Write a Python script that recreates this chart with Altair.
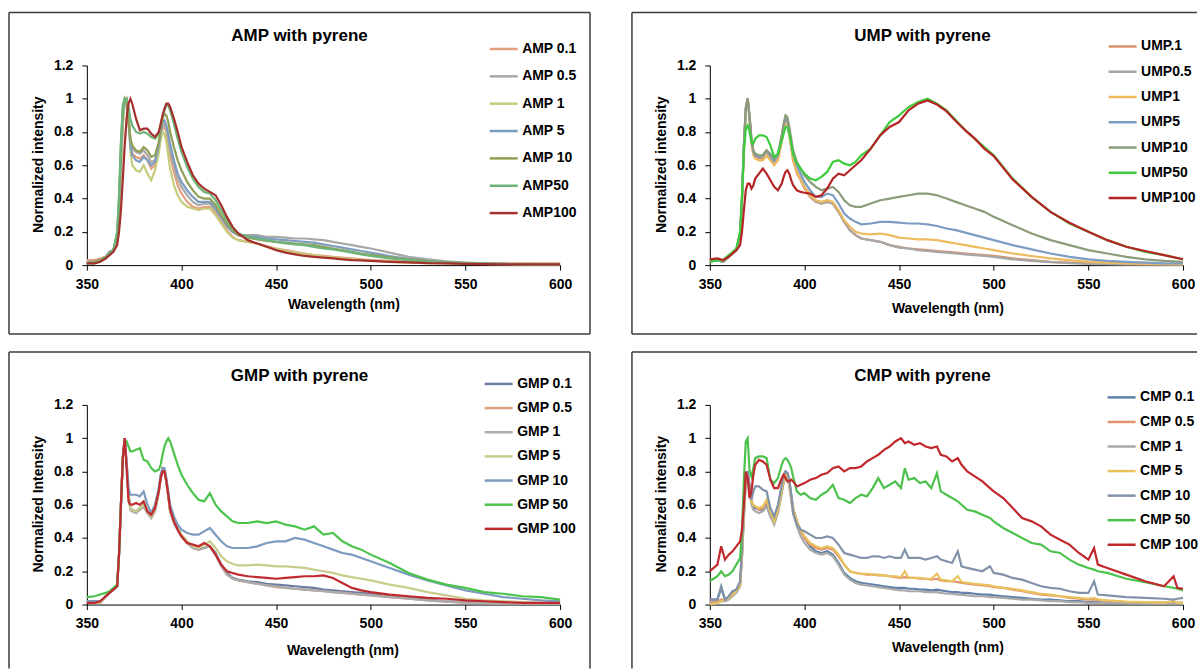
import altair as alt
import pandas as pd

FONT = "Liberation Sans"
INK = "#000000"
FRAME_COLOR = "#3c3c3c"

# Shared wavelength grid (nm) for the AMP, UMP and GMP spectra
WAVE = [350, 354, 357, 360, 362, 364, 366, 367, 368, 369,
        370, 371, 372, 373, 374, 376, 378, 380, 382, 384,
        386, 388, 389, 390, 391, 392, 393, 394, 396, 398,
        400, 403, 406, 409, 412, 415, 418, 421, 424, 427,
        430, 435, 440, 445, 450, 455, 460, 465, 470, 475,
        480, 485, 490, 495, 500, 510, 520, 530, 540, 550,
        560, 570, 580, 590, 600]

# Finer grid for the noisier CMP spectra
WAVE_CMP = [350, 354, 356, 358, 360, 362, 364, 366, 367, 368,
            369, 370, 371, 372, 373, 374, 376, 378, 380, 382,
            384, 386, 388, 389, 390, 391, 392, 393, 394, 396,
            398, 400, 403, 406, 409, 412, 415, 418, 421, 424,
            427, 430, 433, 436, 439, 442, 445, 448, 451, 453,
            455, 458, 461, 464, 467, 470, 472, 475, 478, 481,
            483, 486, 490, 494, 498, 500, 505, 510, 515, 520,
            525, 530, 535, 540, 545, 550, 553, 555, 560, 570,
            580, 590, 595, 597, 600]

X_TICKS = [350, 400, 450, 500, 550, 600]
Y_TICKS = [0, 0.2, 0.4, 0.6, 0.8, 1, 1.2]

# ---------------- AMP ----------------
AMP_NAMES = ["AMP 0.1", "AMP 0.5", "AMP 1", "AMP 5", "AMP 10", "AMP50", "AMP100"]
AMP_COLORS = ["#E59F7E", "#A8A8A8", "#C6CC7C", "#7C9DC2", "#8FA055", "#6DB47A", "#A3302C"]
AMP_VALUES = [
    [0.03, 0.03, 0.04, 0.05, 0.08, 0.09, 0.16, 0.32, 0.6, 0.85,
     0.98, 1.0, 0.92, 0.75, 0.67, 0.65, 0.64, 0.66, 0.63, 0.58,
     0.6, 0.7, 0.78, 0.82, 0.83, 0.8, 0.74, 0.66, 0.56, 0.48,
     0.43, 0.38, 0.35, 0.34, 0.35, 0.35, 0.31, 0.26, 0.21, 0.17,
     0.15, 0.14, 0.13, 0.115, 0.1, 0.09, 0.08, 0.07, 0.06, 0.055,
     0.05, 0.045, 0.04, 0.035, 0.03, 0.025, 0.02, 0.015, 0.012, 0.01,
     0.01, 0.01, 0.01, 0.01, 0.01],
    [0.02, 0.02, 0.03, 0.05, 0.08, 0.09, 0.16, 0.33, 0.62, 0.87,
     0.99, 1.0, 0.9, 0.76, 0.7, 0.68, 0.67, 0.69, 0.66, 0.62,
     0.63, 0.72, 0.79, 0.84, 0.85, 0.82, 0.76, 0.69, 0.6, 0.52,
     0.47, 0.42, 0.38, 0.36, 0.37, 0.37, 0.33, 0.28, 0.23, 0.2,
     0.18, 0.18, 0.18, 0.17, 0.17, 0.165, 0.16, 0.16, 0.155, 0.15,
     0.14, 0.13, 0.12, 0.11, 0.1, 0.075, 0.05, 0.035, 0.022, 0.015,
     0.01, 0.008, 0.006, 0.005, 0.005],
    [0.01, 0.02, 0.03, 0.05, 0.08, 0.09, 0.15, 0.3, 0.57, 0.83,
     0.97, 1.0, 0.88, 0.68, 0.6, 0.57, 0.56, 0.6, 0.55, 0.51,
     0.57, 0.67, 0.75, 0.8, 0.79, 0.74, 0.66, 0.58, 0.48, 0.42,
     0.38, 0.35, 0.34, 0.33, 0.34, 0.34, 0.3, 0.25, 0.2, 0.165,
     0.15, 0.14, 0.13, 0.11, 0.1, 0.085, 0.075, 0.065, 0.06, 0.05,
     0.045, 0.04, 0.035, 0.03, 0.028, 0.02, 0.015, 0.012, 0.01, 0.008,
     0.007, 0.006, 0.005, 0.005, 0.005],
    [0.01, 0.02, 0.03, 0.05, 0.08, 0.09, 0.17, 0.36, 0.66, 0.9,
     1.0, 0.99, 0.86, 0.72, 0.66, 0.63, 0.62, 0.65, 0.63, 0.6,
     0.62, 0.72, 0.8, 0.86, 0.87, 0.84, 0.79, 0.73, 0.63, 0.55,
     0.5, 0.45, 0.41, 0.38, 0.38, 0.38, 0.34, 0.29, 0.24, 0.2,
     0.18, 0.17, 0.17, 0.16, 0.155, 0.15, 0.145, 0.14, 0.135, 0.125,
     0.115, 0.105, 0.095, 0.085, 0.075, 0.055, 0.038, 0.026, 0.018, 0.012,
     0.009, 0.007, 0.006, 0.005, 0.005],
    [0.01, 0.02, 0.03, 0.05, 0.07, 0.09, 0.19, 0.4, 0.72, 0.95,
     1.0, 0.97, 0.86, 0.76, 0.72, 0.69, 0.68, 0.71, 0.69, 0.65,
     0.66, 0.74, 0.82, 0.88, 0.91, 0.9, 0.86, 0.8, 0.71, 0.63,
     0.57, 0.5, 0.45, 0.41, 0.4, 0.4, 0.36, 0.3, 0.25, 0.21,
     0.18, 0.165, 0.155, 0.145, 0.14, 0.135, 0.13, 0.125, 0.12, 0.11,
     0.1, 0.09, 0.08, 0.07, 0.062, 0.046, 0.034, 0.024, 0.017, 0.012,
     0.009, 0.007, 0.006, 0.005, 0.005],
    [0.01, 0.01, 0.02, 0.04, 0.07, 0.09, 0.2, 0.42, 0.74, 0.96,
     1.0, 1.0, 0.95, 0.88, 0.84, 0.8, 0.79, 0.8, 0.79, 0.77,
     0.76, 0.79, 0.84, 0.89, 0.93, 0.96, 0.96, 0.93, 0.85, 0.76,
     0.68, 0.59, 0.52, 0.47, 0.44, 0.43, 0.39, 0.33, 0.27, 0.22,
     0.19, 0.17, 0.16, 0.15, 0.14, 0.13, 0.125, 0.12, 0.11, 0.1,
     0.095, 0.085, 0.075, 0.065, 0.055, 0.04, 0.03, 0.02, 0.015, 0.01,
     0.008, 0.006, 0.005, 0.005, 0.005],
    [0.01, 0.01, 0.02, 0.04, 0.06, 0.08, 0.12, 0.2, 0.33, 0.52,
     0.72, 0.88, 0.97, 1.0, 0.97, 0.88, 0.81, 0.82, 0.82, 0.79,
     0.77, 0.8, 0.85, 0.9, 0.94, 0.97, 0.97, 0.95, 0.88, 0.8,
     0.71, 0.62, 0.54, 0.49, 0.46, 0.44, 0.42, 0.36, 0.29, 0.23,
     0.19, 0.15, 0.13, 0.11, 0.09, 0.075, 0.065, 0.055, 0.05, 0.045,
     0.04, 0.035, 0.03, 0.028, 0.025, 0.02, 0.017, 0.012, 0.01, 0.008,
     0.006, 0.005, 0.005, 0.005, 0.005],
]

# ---------------- UMP ----------------
UMP_NAMES = ["UMP.1", "UMP0.5", "UMP1", "UMP5", "UMP10", "UMP50", "UMP100"]
UMP_COLORS = ["#D9916A", "#A6A6A6", "#EDBA5E", "#7D9CC4", "#8C9C7A", "#3ECC3E", "#B52525"]
UMP_VALUES = [
    [0.03, 0.03, 0.02, 0.05, 0.07, 0.09, 0.18, 0.38, 0.7, 0.93,
     1.0, 0.88, 0.74, 0.67, 0.65, 0.64, 0.64, 0.67, 0.64, 0.61,
     0.64, 0.75, 0.82, 0.86, 0.85, 0.79, 0.71, 0.63, 0.55, 0.51,
     0.46, 0.41, 0.38, 0.37, 0.38, 0.37, 0.32, 0.26, 0.21, 0.18,
     0.16, 0.15, 0.14, 0.12, 0.11, 0.1, 0.095, 0.09, 0.085, 0.08,
     0.075, 0.07, 0.065, 0.06, 0.055, 0.04, 0.03, 0.02, 0.015, 0.01,
     0.008, 0.006, 0.005, 0.005, 0.005],
    [0.02, 0.03, 0.02, 0.05, 0.07, 0.09, 0.19, 0.4, 0.72, 0.94,
     1.0, 0.89, 0.75, 0.68, 0.66, 0.65, 0.65, 0.68, 0.65, 0.62,
     0.65, 0.77, 0.84, 0.89, 0.88, 0.81, 0.73, 0.65, 0.57, 0.52,
     0.47, 0.42, 0.38, 0.37, 0.38, 0.37, 0.32, 0.26, 0.21, 0.18,
     0.16, 0.15, 0.14, 0.12, 0.105, 0.1, 0.09, 0.085, 0.08, 0.075,
     0.07, 0.065, 0.06, 0.055, 0.05, 0.035, 0.025, 0.018, 0.012, 0.008,
     0.006, 0.005, 0.005, 0.005, 0.005],
    [0.03, 0.03, 0.02, 0.05, 0.07, 0.09, 0.18, 0.38, 0.7, 0.93,
     1.0, 0.88, 0.73, 0.66, 0.64, 0.63, 0.63, 0.66, 0.63, 0.6,
     0.63, 0.74, 0.81, 0.85, 0.84, 0.78, 0.71, 0.63, 0.56, 0.51,
     0.47, 0.42, 0.39, 0.38, 0.39, 0.38, 0.33, 0.27, 0.23, 0.2,
     0.19, 0.185, 0.19, 0.18, 0.165, 0.16, 0.155, 0.155, 0.15, 0.14,
     0.13, 0.12, 0.11, 0.1, 0.09, 0.07, 0.055, 0.04, 0.03, 0.02,
     0.015, 0.01, 0.008, 0.006, 0.005],
    [0.02, 0.03, 0.02, 0.05, 0.07, 0.09, 0.19, 0.4, 0.72, 0.94,
     1.0, 0.89, 0.75, 0.68, 0.66, 0.65, 0.66, 0.69, 0.66, 0.63,
     0.66, 0.77, 0.84, 0.88, 0.87, 0.81, 0.74, 0.67, 0.6, 0.55,
     0.5, 0.45, 0.41, 0.41, 0.43, 0.42, 0.37, 0.31, 0.28, 0.26,
     0.245, 0.25, 0.26, 0.26, 0.255, 0.25, 0.25, 0.245, 0.235, 0.22,
     0.21, 0.195, 0.18, 0.165, 0.15, 0.12, 0.095, 0.07, 0.05, 0.035,
     0.025, 0.02, 0.015, 0.01, 0.01],
    [0.02, 0.03, 0.02, 0.05, 0.07, 0.09, 0.19, 0.4, 0.72, 0.95,
     1.0, 0.9, 0.76, 0.69, 0.67, 0.66, 0.66, 0.69, 0.67, 0.64,
     0.67, 0.78, 0.85, 0.9, 0.89, 0.83, 0.76, 0.69, 0.62, 0.58,
     0.54, 0.5, 0.47, 0.45, 0.46, 0.47, 0.44, 0.39, 0.36, 0.35,
     0.35, 0.37, 0.39, 0.4, 0.41, 0.42, 0.43, 0.43, 0.42, 0.4,
     0.38, 0.36, 0.34, 0.32, 0.29, 0.24, 0.19, 0.15, 0.12, 0.09,
     0.07, 0.05, 0.035, 0.025, 0.02],
    [0.02, 0.03, 0.03, 0.06, 0.08, 0.1, 0.2, 0.42, 0.68, 0.82,
     0.84, 0.8, 0.74, 0.73, 0.76, 0.78, 0.78, 0.77, 0.72, 0.65,
     0.67, 0.75, 0.79, 0.83, 0.83, 0.79, 0.73, 0.67, 0.61, 0.58,
     0.55, 0.52, 0.51, 0.53, 0.56, 0.62, 0.63, 0.61, 0.6, 0.62,
     0.66, 0.7, 0.78, 0.86, 0.9, 0.95, 0.98, 1.0, 0.97, 0.93,
     0.87, 0.81, 0.76, 0.71, 0.66, 0.52, 0.41, 0.32, 0.25, 0.2,
     0.15, 0.11, 0.08, 0.06, 0.035],
    [0.035, 0.04, 0.03, 0.05, 0.07, 0.09, 0.12, 0.2, 0.33, 0.45,
     0.49, 0.49, 0.46, 0.48, 0.52, 0.55, 0.58, 0.55, 0.51, 0.47,
     0.45, 0.49, 0.53, 0.56, 0.57, 0.55, 0.51, 0.48, 0.45, 0.44,
     0.435, 0.43, 0.41, 0.42, 0.46, 0.52, 0.55, 0.54, 0.57, 0.6,
     0.63, 0.7, 0.78, 0.83, 0.86, 0.93, 0.97, 0.99, 0.965, 0.925,
     0.865, 0.81, 0.76, 0.7, 0.655, 0.515, 0.41, 0.32, 0.255, 0.2,
     0.15, 0.11, 0.085, 0.06, 0.035],
]

# ---------------- GMP ----------------
GMP_NAMES = ["GMP 0.1", "GMP 0.5", "GMP 1", "GMP 5", "GMP 10", "GMP 50", "GMP 100"]
GMP_COLORS = ["#6D7CA3", "#D9A17E", "#ABABAB", "#C9CC8A", "#7C9BBE", "#4CC44C", "#C02A2E"]
GMP_VALUES = [
    [0.01, 0.01, 0.01, 0.05, 0.07, 0.09, 0.11, 0.3, 0.6, 0.88,
     1.0, 0.85, 0.67, 0.58, 0.57, 0.56, 0.58, 0.6, 0.56, 0.53,
     0.57, 0.68, 0.76, 0.81, 0.8, 0.74, 0.65, 0.56, 0.49, 0.45,
     0.41, 0.37, 0.35, 0.33, 0.34, 0.35, 0.31, 0.24, 0.19, 0.16,
     0.15, 0.14, 0.135, 0.125, 0.12, 0.115, 0.11, 0.105, 0.1, 0.09,
     0.085, 0.08, 0.075, 0.07, 0.065, 0.05, 0.04, 0.03, 0.02, 0.015,
     0.01, 0.008, 0.006, 0.005, 0.005],
    [0.01, 0.01, 0.01, 0.05, 0.07, 0.09, 0.11, 0.3, 0.6, 0.88,
     1.0, 0.84, 0.66, 0.57, 0.56, 0.55, 0.57, 0.59, 0.55, 0.52,
     0.56, 0.67, 0.76, 0.81, 0.8, 0.74, 0.65, 0.56, 0.49, 0.45,
     0.41, 0.37, 0.34, 0.33, 0.34, 0.35, 0.3, 0.23, 0.18, 0.155,
     0.145, 0.135, 0.125, 0.115, 0.105, 0.1, 0.095, 0.09, 0.085, 0.08,
     0.075, 0.07, 0.065, 0.06, 0.055, 0.045, 0.035, 0.025, 0.018, 0.012,
     0.009, 0.007, 0.005, 0.005, 0.005],
    [0.01, 0.01, 0.01, 0.05, 0.07, 0.09, 0.11, 0.3, 0.6, 0.88,
     1.0, 0.84, 0.66, 0.57, 0.56, 0.55, 0.57, 0.59, 0.55, 0.52,
     0.56, 0.68, 0.77, 0.82, 0.81, 0.75, 0.66, 0.57, 0.5, 0.45,
     0.41, 0.37, 0.34, 0.33, 0.34, 0.35, 0.3, 0.23, 0.18, 0.155,
     0.145, 0.135, 0.125, 0.115, 0.11, 0.1, 0.095, 0.09, 0.085, 0.08,
     0.075, 0.07, 0.065, 0.06, 0.055, 0.045, 0.035, 0.025, 0.018, 0.012,
     0.009, 0.007, 0.005, 0.005, 0.005],
    [0.01, 0.01, 0.01, 0.05, 0.07, 0.09, 0.11, 0.3, 0.6, 0.88,
     1.0, 0.84, 0.66, 0.58, 0.57, 0.56, 0.58, 0.6, 0.56, 0.53,
     0.57, 0.68, 0.77, 0.82, 0.81, 0.75, 0.66, 0.57, 0.5, 0.46,
     0.42, 0.38, 0.35, 0.34, 0.36, 0.38, 0.34, 0.29, 0.26, 0.245,
     0.235, 0.235, 0.24, 0.235, 0.23, 0.23, 0.225, 0.22, 0.21, 0.2,
     0.19, 0.175, 0.165, 0.155, 0.145, 0.12, 0.1, 0.075, 0.055, 0.035,
     0.025, 0.02, 0.015, 0.01, 0.01],
    [0.02, 0.02, 0.02, 0.05, 0.07, 0.09, 0.11, 0.3, 0.6, 0.88,
     1.0, 0.86, 0.7, 0.66, 0.66, 0.66, 0.65, 0.68, 0.6, 0.55,
     0.6, 0.7, 0.78, 0.82, 0.82, 0.76, 0.68, 0.6, 0.53, 0.48,
     0.45, 0.43, 0.42, 0.42, 0.44, 0.46, 0.42, 0.38, 0.35, 0.34,
     0.34, 0.34, 0.35, 0.37, 0.38, 0.38, 0.4, 0.39, 0.37, 0.35,
     0.33, 0.31, 0.3, 0.28, 0.26, 0.22, 0.18, 0.145, 0.115, 0.085,
     0.065, 0.045, 0.035, 0.025, 0.02],
    [0.045, 0.05, 0.06, 0.07, 0.08, 0.1, 0.12, 0.3, 0.6, 0.88,
     0.97, 0.98, 0.95, 0.92, 0.92, 0.93, 0.94, 0.87, 0.86, 0.82,
     0.8, 0.81, 0.84, 0.9, 0.95, 0.98, 1.0, 0.98, 0.91, 0.84,
     0.78, 0.72, 0.67, 0.63, 0.62, 0.67, 0.6, 0.56, 0.53, 0.5,
     0.49, 0.49, 0.5, 0.49, 0.5, 0.48, 0.47, 0.45, 0.47, 0.42,
     0.43, 0.38, 0.35, 0.33, 0.3, 0.25, 0.19, 0.15, 0.12, 0.1,
     0.075, 0.065, 0.05, 0.045, 0.03],
    [0.01, 0.01, 0.02, 0.05, 0.07, 0.09, 0.11, 0.3, 0.6, 0.88,
     1.0, 0.82, 0.62, 0.6, 0.6, 0.61, 0.6, 0.62, 0.56, 0.54,
     0.58, 0.68, 0.76, 0.8, 0.8, 0.74, 0.66, 0.57, 0.5, 0.45,
     0.41, 0.37, 0.36, 0.35, 0.37, 0.35, 0.3, 0.24, 0.2, 0.19,
     0.18, 0.17, 0.165, 0.16, 0.155, 0.16, 0.165, 0.17, 0.17, 0.175,
     0.16, 0.13, 0.1, 0.085, 0.075, 0.06, 0.05, 0.04, 0.035, 0.025,
     0.02, 0.015, 0.01, 0.01, 0.01],
]

# ---------------- CMP ----------------
CMP_NAMES = ["CMP 0.1", "CMP 0.5", "CMP 1", "CMP 5", "CMP 10", "CMP 50", "CMP 100"]
CMP_COLORS = ["#5F80AB", "#E3946C", "#A9A9A9", "#E9C25E", "#8192A9", "#4CC24C", "#C0282C"]
CMP_VALUES = [
    [0.03, 0.03, 0.1, 0.03, 0.04, 0.06, 0.08, 0.12, 0.3, 0.55,
     0.75, 0.8, 0.72, 0.62, 0.58, 0.58, 0.57, 0.57, 0.6, 0.53,
     0.5, 0.56, 0.68, 0.75, 0.8, 0.79, 0.74, 0.66, 0.58, 0.5,
     0.44, 0.4, 0.35, 0.32, 0.31, 0.32, 0.3, 0.25, 0.19, 0.16,
     0.14, 0.13, 0.125, 0.12, 0.115, 0.11, 0.105, 0.1, 0.1, 0.1,
     0.095, 0.095, 0.09, 0.09, 0.085, 0.09, 0.085, 0.08, 0.075, 0.075,
     0.07, 0.07, 0.065, 0.06, 0.06, 0.055, 0.05, 0.045, 0.04, 0.035,
     0.03, 0.03, 0.025, 0.02, 0.02, 0.015, 0.015, 0.015, 0.01, 0.01,
     0.01, 0.01, 0.01, 0.01, 0.01],
    [0.02, 0.02, 0.03, 0.03, 0.04, 0.06, 0.08, 0.12, 0.3, 0.55,
     0.74, 0.78, 0.7, 0.62, 0.6, 0.59, 0.57, 0.58, 0.62, 0.56,
     0.5, 0.56, 0.68, 0.74, 0.78, 0.77, 0.72, 0.64, 0.57, 0.5,
     0.44, 0.4, 0.36, 0.34, 0.33, 0.34, 0.33, 0.29, 0.24, 0.2,
     0.19, 0.185, 0.18, 0.18, 0.175, 0.175, 0.17, 0.165, 0.16, 0.165,
     0.16, 0.16, 0.155, 0.155, 0.15, 0.155, 0.145, 0.14, 0.14, 0.135,
     0.13, 0.125, 0.12, 0.115, 0.11, 0.105, 0.1, 0.09, 0.08, 0.07,
     0.06, 0.055, 0.05, 0.04, 0.035, 0.03, 0.03, 0.028, 0.022, 0.015,
     0.012, 0.01, 0.01, 0.01, 0.01],
    [0.01, 0.01, 0.02, 0.02, 0.03, 0.05, 0.07, 0.11, 0.28, 0.52,
     0.72, 0.76, 0.68, 0.6, 0.57, 0.56, 0.55, 0.56, 0.59, 0.53,
     0.48, 0.55, 0.67, 0.73, 0.77, 0.76, 0.71, 0.63, 0.55, 0.47,
     0.41, 0.37, 0.33, 0.31, 0.3, 0.31, 0.29, 0.24, 0.18, 0.15,
     0.13, 0.12, 0.115, 0.11, 0.105, 0.1, 0.095, 0.09, 0.085, 0.085,
     0.08, 0.08, 0.08, 0.075, 0.075, 0.075, 0.07, 0.065, 0.065, 0.06,
     0.06, 0.055, 0.05, 0.05, 0.045, 0.045, 0.04, 0.035, 0.03, 0.03,
     0.025, 0.02, 0.02, 0.015, 0.015, 0.01, 0.01, 0.01, 0.01, 0.008,
     0.006, 0.005, 0.005, 0.005, 0.005],
    [0.0, 0.01, 0.02, 0.03, 0.04, 0.06, 0.08, 0.12, 0.3, 0.55,
     0.74, 0.78, 0.7, 0.62, 0.6, 0.59, 0.58, 0.59, 0.63, 0.56,
     0.5, 0.57, 0.69, 0.75, 0.78, 0.77, 0.72, 0.64, 0.57, 0.5,
     0.45, 0.41, 0.37, 0.35, 0.34, 0.35, 0.34, 0.3, 0.24, 0.2,
     0.19, 0.185, 0.185, 0.18, 0.18, 0.175, 0.17, 0.17, 0.165, 0.2,
     0.16, 0.16, 0.16, 0.155, 0.155, 0.185, 0.15, 0.145, 0.14, 0.17,
     0.135, 0.13, 0.125, 0.12, 0.115, 0.11, 0.1, 0.095, 0.085, 0.075,
     0.065, 0.06, 0.05, 0.045, 0.04, 0.035, 0.04, 0.03, 0.025, 0.018,
     0.014, 0.012, 0.02, 0.01, 0.01],
    [0.03, 0.03, 0.11, 0.03, 0.05, 0.08, 0.09, 0.14, 0.35, 0.6,
     0.76, 0.8, 0.7, 0.63, 0.68, 0.71, 0.71, 0.69, 0.68, 0.58,
     0.53, 0.6, 0.72, 0.78, 0.8, 0.79, 0.75, 0.66, 0.55, 0.48,
     0.45, 0.44, 0.42, 0.4, 0.4, 0.41, 0.4, 0.36, 0.31, 0.3,
     0.29, 0.28, 0.28, 0.29, 0.29, 0.28, 0.29, 0.28, 0.28, 0.33,
     0.28, 0.28, 0.28, 0.27, 0.28, 0.29, 0.27, 0.26, 0.25, 0.32,
     0.23, 0.22, 0.21, 0.2, 0.23, 0.19, 0.18, 0.16, 0.15, 0.13,
     0.11, 0.1, 0.095, 0.08, 0.07, 0.07, 0.14, 0.06, 0.055, 0.045,
     0.04, 0.035, 0.03, 0.035, 0.04],
    [0.14, 0.17, 0.2, 0.17, 0.18, 0.2, 0.24, 0.28, 0.45, 0.75,
     0.98, 1.0, 0.8, 0.77, 0.82, 0.88, 0.89, 0.89, 0.88, 0.75,
     0.73, 0.76, 0.84, 0.87, 0.88, 0.87, 0.85, 0.82, 0.77, 0.68,
     0.66, 0.67, 0.64, 0.63, 0.66, 0.68, 0.72, 0.64, 0.63, 0.61,
     0.64, 0.66, 0.65, 0.7, 0.76, 0.7, 0.72, 0.74, 0.7, 0.82,
     0.75, 0.76, 0.73, 0.74, 0.7, 0.79, 0.68, 0.66, 0.64, 0.62,
     0.6, 0.57, 0.56, 0.54, 0.52, 0.5, 0.46, 0.43, 0.4, 0.37,
     0.36, 0.32, 0.31, 0.27, 0.24, 0.22, 0.21, 0.2, 0.19, 0.155,
     0.135, 0.11, 0.1, 0.095, 0.085],
    [0.2, 0.24, 0.35, 0.27, 0.3, 0.32, 0.35, 0.38, 0.45, 0.6,
     0.8, 0.76, 0.64, 0.68, 0.78, 0.84, 0.87, 0.86, 0.84, 0.75,
     0.7, 0.7, 0.76, 0.78, 0.76, 0.74, 0.74, 0.75, 0.74, 0.71,
     0.72, 0.73, 0.75, 0.76, 0.78, 0.79, 0.82, 0.83, 0.8, 0.82,
     0.82, 0.83, 0.86, 0.88, 0.9, 0.93, 0.95, 0.98, 1.0, 0.97,
     0.98, 0.96, 0.97, 0.95, 0.94, 0.95, 0.9, 0.89, 0.86, 0.88,
     0.84, 0.8, 0.77, 0.74, 0.7, 0.68, 0.64, 0.58, 0.52, 0.5,
     0.47, 0.42, 0.39, 0.36, 0.31, 0.27, 0.34, 0.24, 0.22, 0.18,
     0.14, 0.11, 0.17, 0.1, 0.095],
]

PLOT_W, PLOT_H = 474, 200
LABEL_SIZE = 14
ENTRY_H = 23.2  # height a legend row takes before row padding


def spectra_frame(names, wave, values):
    rows = []
    for rank, (name, vals) in enumerate(zip(names, values)):
        assert len(vals) == len(wave), (name, len(vals), len(wave))
        for w, v in zip(wave, vals):
            rows.append({"series": name, "rank": rank, "wavelength": w, "intensity": v})
    return pd.DataFrame(rows)


def panel(title, names, colors, wave, values, ytitle, xtitle_pos, legend_pos, row_step, frame_sides):
    df = spectra_frame(names, wave, values)
    x_axis = alt.Axis(
        values=X_TICKS, title="Wavelength (nm)", grid=False, labelFlush=False, labelOverlap=False,
        domainColor=INK, tickColor=INK, tickSize=5, labelPadding=7,
        labelFont=FONT, labelFontSize=LABEL_SIZE, labelFontWeight="bold", labelColor=INK,
        titleFont=FONT, titleFontSize=14, titleFontWeight="bold", titleColor=INK,
        titleX=xtitle_pos[0], titleY=xtitle_pos[1], titleAlign="center", titleBaseline="middle",
    )
    y_axis = alt.Axis(
        values=Y_TICKS, format="~g", title=ytitle, grid=False, labelFlush=False, labelOverlap=False,
        domainColor=INK, tickColor=INK, tickSize=5, labelPadding=9,
        labelFont=FONT, labelFontSize=LABEL_SIZE, labelFontWeight="bold", labelColor=INK,
        titleFont=FONT, titleFontSize=14, titleFontWeight="bold", titleColor=INK,
        titleX=-48, titleY=99, titleAlign="center", titleBaseline="middle", titleAngle=270,
    )
    legend = alt.Legend(
        orient="none", legendX=legend_pos[0], legendY=legend_pos[1], title=None,
        symbolType="stroke", symbolSize=784, symbolStrokeWidth=2.5, labelOffset=3,
        labelFont=FONT, labelFontSize=LABEL_SIZE, labelFontWeight="bold", labelColor=INK,
        rowPadding=row_step - ENTRY_H, padding=0,
    )
    lines = alt.Chart(df).mark_line(strokeWidth=2.2).encode(
        x=alt.X("wavelength:Q", scale=alt.Scale(domain=[350, 600], nice=False, zero=False), axis=x_axis),
        y=alt.Y("intensity:Q", scale=alt.Scale(domain=[0, 1.2], nice=False), axis=y_axis),
        color=alt.Color("series:N", scale=alt.Scale(domain=names, range=colors), sort=names, legend=legend),
    )
    one = pd.DataFrame({"k": [0]})
    heading = alt.Chart(one).mark_text(
        font=FONT, fontSize=17, fontWeight="bold", color=INK, align="center", baseline="middle"
    ).encode(x=alt.value(213), y=alt.value(-29), text=alt.value(title))

    left, right, top, bottom = -78, frame_sides["right"], -53, frame_sides["bottom"]
    segments = [(left, right, top, top), (left, left, top, bottom)]
    if frame_sides["close_right"]:
        segments.append((right, right, top, bottom))
    if frame_sides["close_bottom"]:
        segments.append((left, right, bottom, bottom))
    frame = [
        alt.Chart(one).mark_rule(color=FRAME_COLOR, strokeWidth=1.5).encode(
            x=alt.value(a), x2=alt.value(b), y=alt.value(c), y2=alt.value(d)
        )
        for a, b, c, d in segments
    ]
    return alt.layer(lines, heading, *frame).properties(width=PLOT_W, height=PLOT_H)


amp = panel("AMP with pyrene", AMP_NAMES, AMP_COLORS, WAVE, AMP_VALUES, "Normalized intensity",
            (257, 39), (402, -32), 27.6,
            {"right": 504, "bottom": 269, "close_right": True, "close_bottom": True})
ump = panel("UMP with pyrene", UMP_NAMES, UMP_COLORS, WAVE, UMP_VALUES, "Normalized intensity",
            (238, 43), (398, -34.5), 25.5,
            {"right": 488, "bottom": 269, "close_right": False, "close_bottom": True})
gmp = panel("GMP with pyrene", GMP_NAMES, GMP_COLORS, WAVE, GMP_VALUES, "Normalized Intensity",
            (256, 46), (397, -36.5), 24.4,
            {"right": 504, "bottom": 264, "close_right": True, "close_bottom": False})
cmp_ = panel("CMP with pyrene", CMP_NAMES, CMP_COLORS, WAVE_CMP, CMP_VALUES, "Normalized intensity",
             (238, 43), (397, -23), 24.8,
             {"right": 488, "bottom": 264, "close_right": False, "close_bottom": False})

chart = (
    alt.concat(amp, ump, gmp, cmp_, columns=2, spacing=alt.RowColnumber(row=140, column=150), bounds="flush")
    .resolve_scale(color="independent", x="independent", y="independent")
    .properties(padding={"left": 8, "top": 11, "right": 0, "bottom": 0}, background="white")
    .configure_view(stroke=None)
)

chart.save("out.html", embed_options={"renderer": "svg", "actions": False})
